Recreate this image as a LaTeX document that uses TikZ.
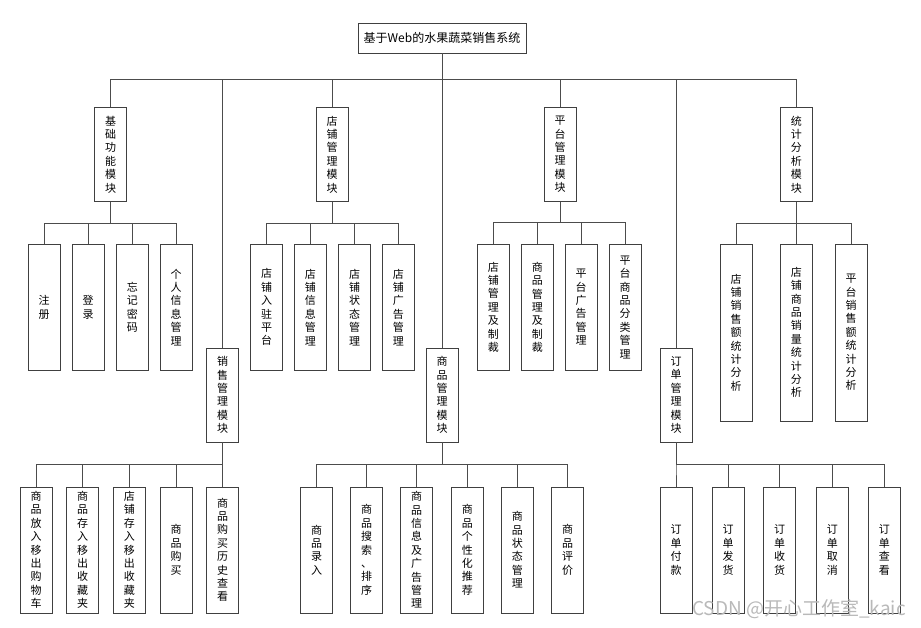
\documentclass[tikz,border=0pt]{standalone}
\usepackage{fontspec}
\setmainfont{Noto Sans CJK SC}
\begin{document}
\begin{tikzpicture}[x=1pt, y=-1pt,
        box/.style={draw=black!75, line width=0.8pt, fill=white, inner sep=1pt, minimum width=32pt, align=center, font=\fontsize{11}{13.4}\selectfont},
        modbox/.style={box, minimum height=94pt},
        leafbox/.style={box, minimum height=126pt},
        longbox/.style={box, minimum height=177pt},
        wire/.style={draw=black!70, line width=0.8pt}]
    \useasboundingbox (0,0) rectangle (921,628);

    % root and modules
    \node[box, minimum width=168pt, minimum height=30pt, font=\fontsize{12}{14}\selectfont] (root) at (442,38) {基于Web的水果蔬菜销售系统};
    \node[modbox] (basic) at (110.7,154.5) {基\\础\\功\\能\\模\\块};
    \node[modbox] (shop)  at (332,154.5) {店\\铺\\管\\理\\模\\块};
    \node[modbox] (plat)  at (560,154.5) {平\\台\\管\\理\\模\\块};
    \node[modbox] (stat)  at (796.3,154.5) {统\\计\\分\\析\\模\\块};
    \node[modbox] (sales) at (222.7,395) {销\\售\\管\\理\\模\\块};
    \node[modbox] (goods) at (442,395) {商\\品\\管\\理\\模\\块};
    \node[modbox] (order) at (676,395) {订\\单\\管\\理\\模\\块};

    % top row leaves
    \node[leafbox] (zc)   at (44,307.2) {注\\册};
    \node[leafbox] (dl)   at (88.2,307.2) {登\\录};
    \node[leafbox] (wjmm) at (132.3,307.2) {忘\\记\\密\\码};
    \node[leafbox] (grxx) at (176,307.2) {个\\人\\信\\息\\管\\理};

    \node[leafbox] (drz) at (266.5,307.2) {店\\铺\\入\\驻\\平\\台};
    \node[leafbox] (dxx) at (310.3,307.2) {店\\铺\\信\\息\\管\\理};
    \node[leafbox] (dzt) at (354.5,307.2) {店\\铺\\状\\态\\管\\理};
    \node[leafbox] (dgg) at (398.3,307.2) {店\\铺\\广\\告\\管\\理};

    \node[leafbox] (dpzc) at (493.3,307.2) {店\\铺\\管\\理\\及\\制\\裁};
    \node[leafbox] (spzc) at (537.3,307.2) {商\\品\\管\\理\\及\\制\\裁};
    \node[leafbox] (ptgg) at (581,307.2) {平\\台\\广\\告\\管\\理};
    \node[leafbox] (ptfl) at (625,307.2) {平\\台\\商\\品\\分\\类\\管\\理};

    \node[longbox] (dpxse) at (736,332.5) {店\\铺\\销\\售\\额\\统\\计\\分\\析};
    \node[longbox] (spxl)  at (796.3,332.5) {店\\铺\\商\\品\\销\\量\\统\\计\\分\\析};
    \node[longbox] (ptxse) at (851,332.5) {平\\台\\销\\售\\额\\统\\计\\分\\析};

    % bottom row leaves
    \node[leafbox] (gwc)  at (36.2,549.9) {商\\品\\放\\入\\移\\出\\购\\物\\车};
    \node[leafbox] (spsc) at (82.7,549.9) {商\\品\\存\\入\\移\\出\\收\\藏\\夹};
    \node[leafbox] (dpsc) at (129.3,549.9) {店\\铺\\存\\入\\移\\出\\收\\藏\\夹};
    \node[leafbox] (spgm) at (176,549.9) {商\\品\\购\\买};
    \node[leafbox] (gmls) at (222.7,549.9) {商\\品\\购\\买\\历\\史\\查\\看};

    \node[leafbox] (splr) at (316.5,549.9) {商\\品\\录\\入};
    \node[leafbox] (spss) at (366.5,549.9) {商\\品\\搜\\索\\、\\排\\序};
    \node[leafbox] (spxx) at (416.7,549.9) {商\\品\\信\\息\\及\\广\\告\\管\\理};
    \node[leafbox] (sptj) at (467.3,549.9) {商\\品\\个\\性\\化\\推\\荐};
    \node[leafbox] (spzt) at (517.3,549.9) {商\\品\\状\\态\\管\\理};
    \node[leafbox] (sppj) at (567.5,549.9) {商\\品\\评\\价};

    \node[leafbox] (ddfk) at (676,549.9) {订\\单\\付\\款};
    \node[leafbox] (ddfh) at (728,549.9) {订\\单\\发\\货};
    \node[leafbox] (ddsh) at (779.7,549.9) {订\\单\\收\\货};
    \node[leafbox] (ddqx) at (832.3,549.9) {订\\单\\取\\消};
    \node[leafbox] (ddck) at (884.3,549.9) {订\\单\\查\\看};

    % wires
    \coordinate (bus) at (0,79);
    \draw[wire] (root.south) -- (goods.north);
    \draw[wire] (basic.north |- bus) -- (stat.north |- bus);
    \foreach \m in {basic,sales,shop,plat,order,stat}
        \draw[wire] (\m.north) -- (\m.north |- bus);

    \foreach \n in {zc,dl,wjmm,grxx}
        \draw[wire] (basic.south) -- ++(0,21.7) -| (\n.north);
    \foreach \n in {drz,dxx,dzt,dgg}
        \draw[wire] (shop.south) -- ++(0,21.7) -| (\n.north);
    \foreach \n in {dpzc,spzc,ptgg,ptfl}
        \draw[wire] (plat.south) -- ++(0,20.3) -| (\n.north);
    \foreach \n in {dpxse,spxl,ptxse}
        \draw[wire] (stat.south) -- ++(0,21.7) -| (\n.north);
    \foreach \n in {gwc,spsc,dpsc,spgm,gmls}
        \draw[wire] (sales.south) -- ++(0,21.7) -| (\n.north);
    \foreach \n in {splr,spss,spxx,sptj,spzt,sppj}
        \draw[wire] (goods.south) -- ++(0,21.7) -| (\n.north);
    \foreach \n in {ddfk,ddfh,ddsh,ddqx,ddck}
        \draw[wire] (order.south) -- ++(0,21.7) -| (\n.north);

    \node[text=gray!55, anchor=east, inner sep=0pt, font=\fontsize{19}{19}\selectfont] (mark) at (906,609) {CSDN @开心工作室\_kaic};
\end{tikzpicture}
\end{document}
